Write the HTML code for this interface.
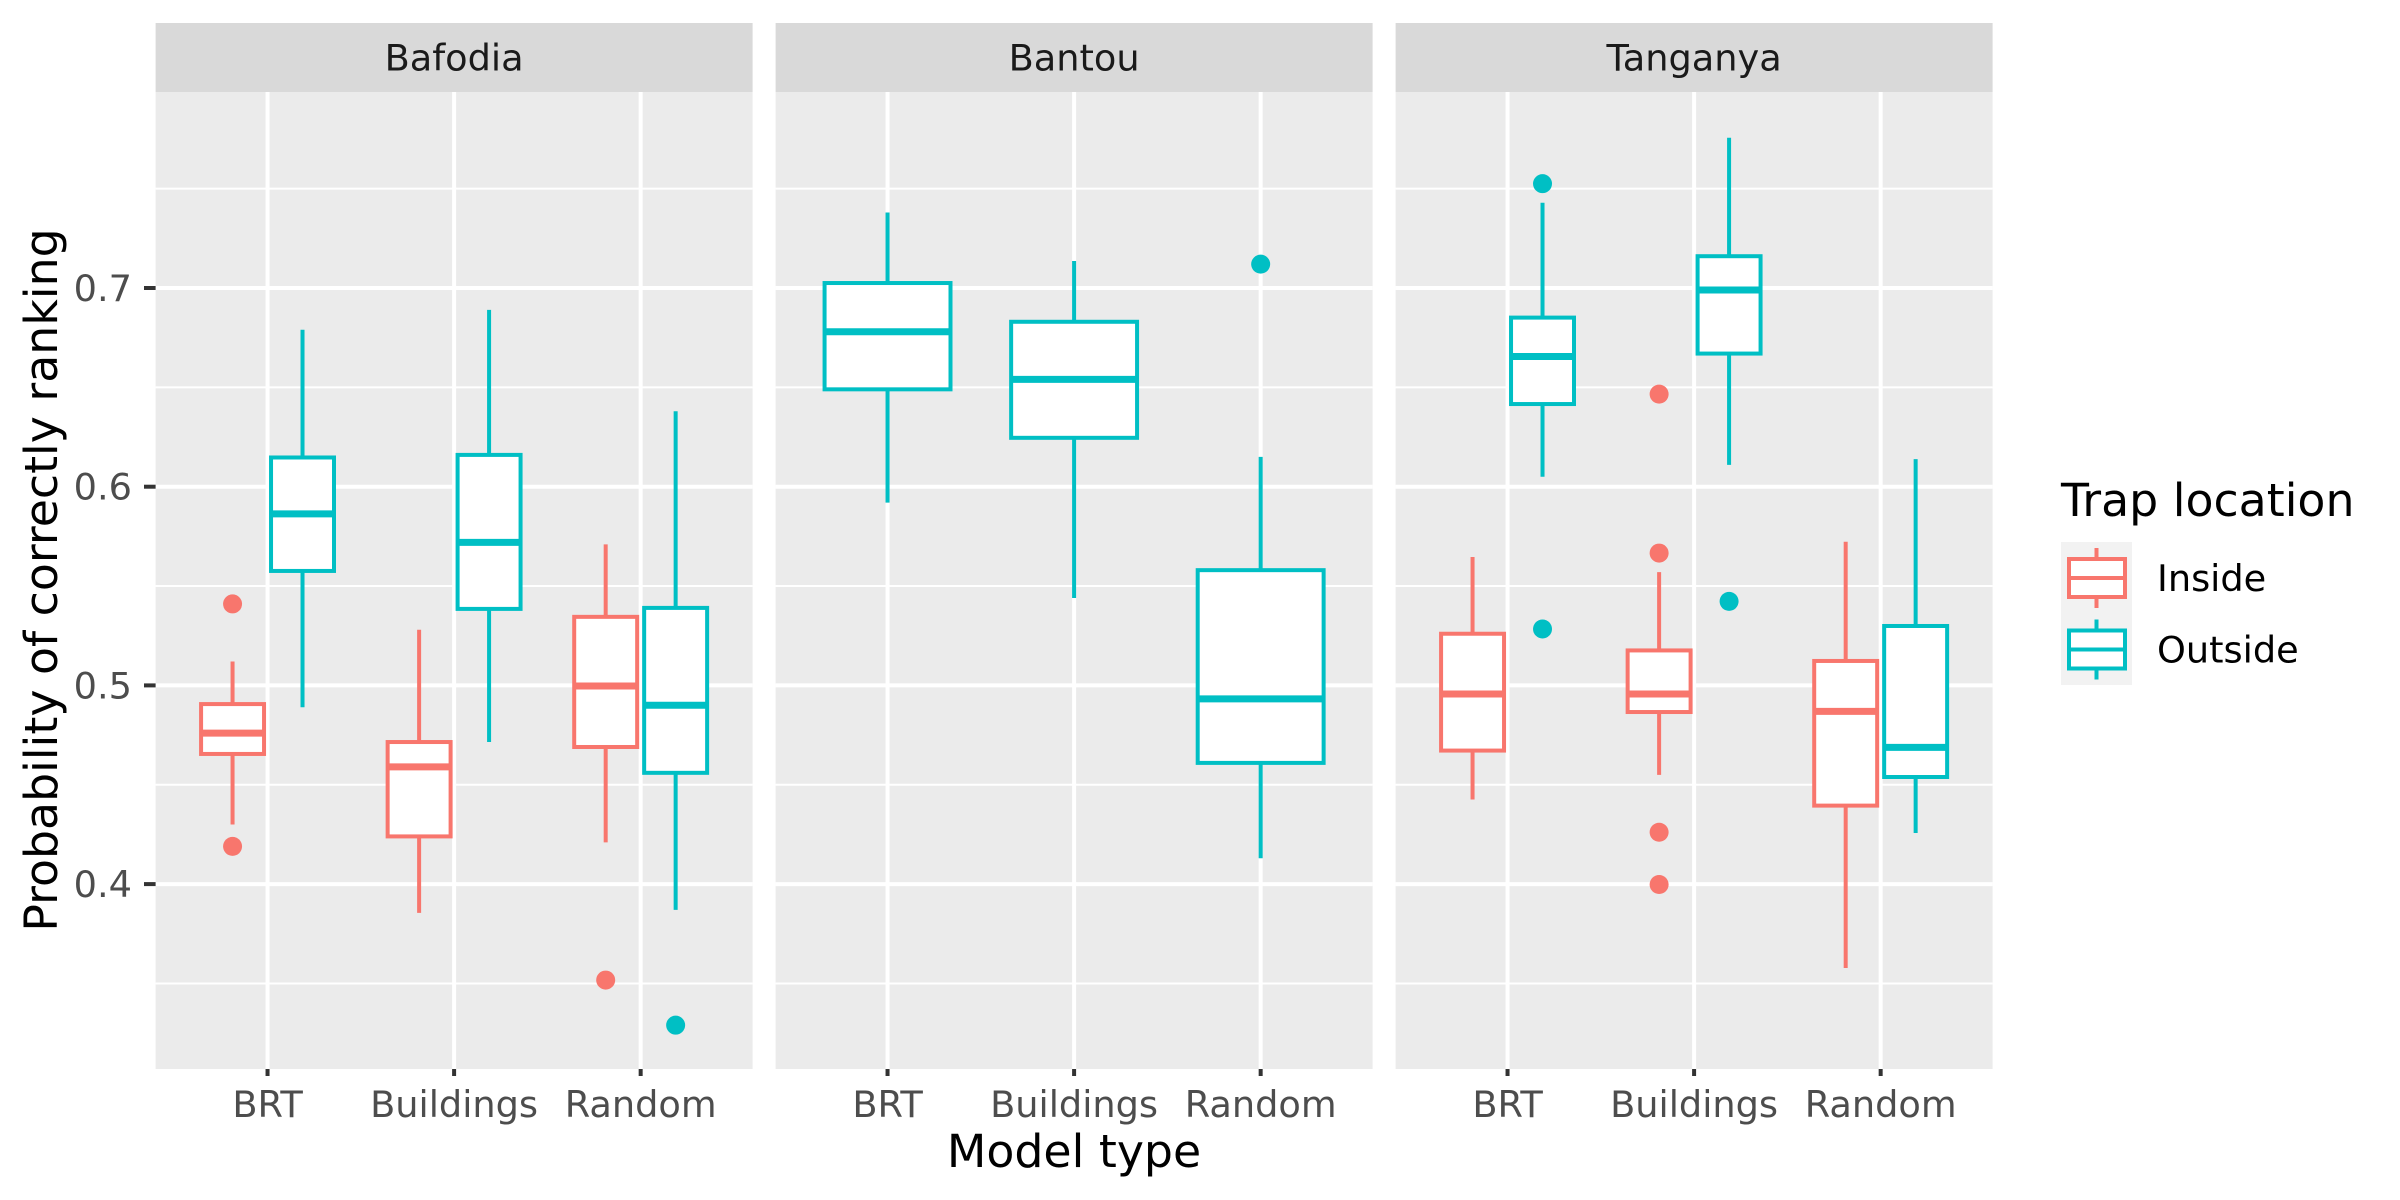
<!DOCTYPE html>
<html><head><meta charset="utf-8"><style>
html,body{margin:0;padding:0;background:#fff;}
svg{display:block;font-family:"DejaVu Sans","Liberation Sans",sans-serif;}
</style></head><body>
<svg id="chart" width="2400" height="1200" viewBox="0 0 2400 1200" xmlns="http://www.w3.org/2000/svg">
<g id="panels"></g>
<text x="1074" y="1167" font-size="45.8" text-anchor="middle" fill="#000">Model type</text>
<text transform="translate(57,580) rotate(-90)" font-size="45.8" text-anchor="middle" fill="#000">Probability of correctly ranking</text>
<g id="legend">
<text x="2061" y="516" font-size="45.8" fill="#000">Trap location</text>
</g>
</svg>
<script>
const facets = ["Bafodia","Bantou","Tanganya"];
const categories = ["BRT","Buildings","Random"];
const groups = ["Inside","Outside"];
const yTicks = [0.4,0.5,0.6,0.7];
const yTickLabels = ["0.4","0.5","0.6","0.7"];
const yMinor = [0.35,0.45,0.55,0.65,0.75];
// [whiskerLow, q1, median, q3, whiskerHigh] per category (null = absent)
const bafodiaInside  = [[0.430,0.4655,0.476,0.4906,0.512],[0.3855,0.424,0.459,0.4715,0.528],[0.421,0.469,0.4997,0.5345,0.571]];
const bafodiaOutside = [[0.489,0.5576,0.5863,0.6147,0.679],[0.4715,0.5385,0.572,0.616,0.689],[0.387,0.456,0.490,0.539,0.638]];
const bantouInside   = [null,null,null];
const bantouOutside  = [[0.592,0.649,0.678,0.7025,0.738],[0.544,0.6246,0.654,0.683,0.7136],[0.413,0.461,0.4932,0.558,0.615]];
const tanganyaInside = [[0.4426,0.4672,0.4957,0.526,0.5646],[0.455,0.4866,0.4957,0.5176,0.557],[0.3578,0.4395,0.4869,0.5123,0.5723]];
const tanganyaOutside= [[0.605,0.6416,0.6655,0.6851,0.7429],[0.611,0.667,0.699,0.716,0.7756],[0.4257,0.4539,0.4688,0.5299,0.6139]];
const bafodiaInsideOut  = [[0.541,0.419],[],[0.3517]];
const bafodiaOutsideOut = [[],[],[0.329]];
const bantouInsideOut   = [[],[],[]];
const bantouOutsideOut  = [[],[],[0.712]];
const tanganyaInsideOut = [[],[0.6466,0.5666,0.4261,0.3998],[]];
const tanganyaOutsideOut= [[0.7525,0.5284],[0.5423],[]];

const statsByFacet = [[bafodiaInside,bafodiaOutside],[bantouInside,bantouOutside],[tanganyaInside,tanganyaOutside]];
const outByFacet = [[bafodiaInsideOut,bafodiaOutsideOut],[bantouInsideOut,bantouOutsideOut],[tanganyaInsideOut,tanganyaOutsideOut]];
const colors = ["#F8766D","#00BFC4"];

const NS="http://www.w3.org/2000/svg";
const PW=597, GAP=23, P0=155.6, PT=92, PB=1069;
const Y0=0.7, YPIX=288, YSCALE=1987;
function yScale(v){return YPIX+(Y0-v)*YSCALE;}
function xScale(fi,ci){const unit=PW/3.2;return P0+fi*(PW+GAP)+(0.6+ci)*unit;}
const UNIT=PW/3.2;
function mk(tag,attrs,parent){const e=document.createElementNS(NS,tag);for(const k in attrs)e.setAttribute(k,attrs[k]);parent.appendChild(e);return e;}
const root=document.getElementById('panels');

facets.forEach((f,fi)=>{
  const px=P0+fi*(PW+GAP);
  const g=mk('g',{},root);
  
  
  const bg=mk('rect',{x:px,y:PT,width:PW,height:PB-PT,fill:'#EBEBEB'},g);
  
  
  yMinor.forEach(v=>{const l=mk('line',{x1:px,x2:px+PW,y1:yScale(v),y2:yScale(v),stroke:'#fff','stroke-width':2},g);
    
    });
  yTicks.forEach(v=>{const l=mk('line',{x1:px,x2:px+PW,y1:yScale(v),y2:yScale(v),stroke:'#fff','stroke-width':4},g);
    
    });
  categories.forEach((c,ci)=>{const x=xScale(fi,ci);
    const l=mk('line',{x1:x,x2:x,y1:PT,y2:PB,stroke:'#fff','stroke-width':4},g);
    
    
    const t=mk('line',{x1:x,x2:x,y1:PB,y2:PB+7,stroke:'#333','stroke-width':4},g);
    
    
    const tl=mk('text',{x:x,y:1117,'font-size':36.7,'text-anchor':'middle',fill:'#4D4D4D'},g);
    tl.textContent=c;
    
    
  });
  const st=mk('rect',{x:px,y:23,width:PW,height:PT-23,fill:'#D9D9D9'},g);
  
  
  const stt=mk('text',{x:px+PW/2,y:70.5,'font-size':36.7,'text-anchor':'middle',fill:'#1A1A1A'},g);
  stt.textContent=f;
  
  

  categories.forEach((c,ci)=>{
    const present=[0,1].filter(gi=>statsByFacet[fi][gi][ci]);
    present.forEach((gi,k)=>{
      const s=statsByFacet[fi][gi][ci];
      const n=present.length;
      const slot=0.75/n;
      const cx=xScale(fi,ci)+(-0.375+slot*(k+0.5))*UNIT;
      const w=slot*0.9*UNIT;
      const col=colors[gi];
      const bg2=mk('g',{},g);
      
      
      mk('line',{x1:cx,x2:cx,y1:yScale(s[4]),y2:yScale(s[3]),stroke:col,'stroke-width':4},bg2);
      mk('line',{x1:cx,x2:cx,y1:yScale(s[1]),y2:yScale(s[0]),stroke:col,'stroke-width':4},bg2);
      mk('rect',{x:cx-w/2,y:yScale(s[3]),width:w,height:yScale(s[1])-yScale(s[3]),fill:'#fff',stroke:col,'stroke-width':4},bg2);
      mk('line',{x1:cx-w/2,x2:cx+w/2,y1:yScale(s[2]),y2:yScale(s[2]),stroke:col,'stroke-width':7},bg2);
      outByFacet[fi][gi][ci].forEach(v=>{
        const p=mk('circle',{cx:cx,cy:yScale(v),r:9.5,fill:col},bg2);
        
        
      });
    });
  });
});
// y axis
const ya=mk('g',{},root);


yTicks.forEach((v,i)=>{
  mk('line',{x1:144,x2:155.6,y1:yScale(v),y2:yScale(v),stroke:'#333','stroke-width':4},ya);
  const t=mk('text',{x:132,y:yScale(v)+13,'font-size':36.7,'text-anchor':'end',fill:'#4D4D4D'},ya);
  t.textContent=yTickLabels[i];
  
  
});
// legend
const lg=document.getElementById('legend');
groups.forEach((gname,gi)=>{
  const ky=542+gi*71.5;
  const e=mk('g',{},lg);
  
  
  mk('rect',{x:2061,y:ky,width:71,height:71.5,fill:'#F2F2F2'},e);
  const cy=ky+36;
  mk('line',{x1:2096.5,x2:2096.5,y1:cy-30,y2:cy+30,stroke:colors[gi],'stroke-width':4},e);
  mk('rect',{x:2069,y:cy-19,width:56,height:38,fill:'#fff',stroke:colors[gi],'stroke-width':4},e);
  mk('line',{x1:2069,x2:2125,y1:cy,y2:cy,stroke:colors[gi],'stroke-width':4},e);
  const t=mk('text',{x:2157,y:cy+13,'font-size':36.7,fill:'#000'},e);
  t.textContent=gname;
});
</script>
</body></html>
